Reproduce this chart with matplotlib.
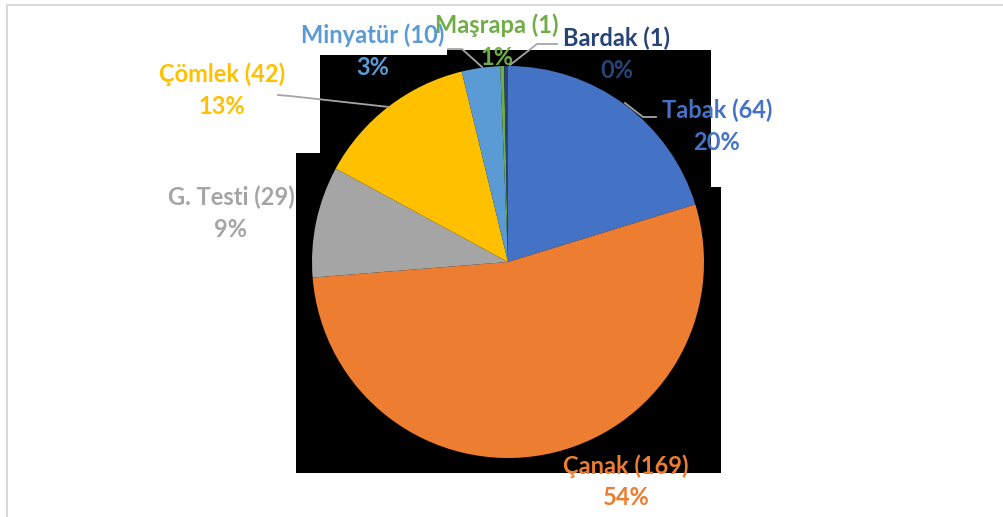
import matplotlib
matplotlib.use('Agg')
import matplotlib.pyplot as plt
from matplotlib.patches import Polygon

plt.rcParams['font.family'] = ['Lato', 'DejaVu Sans']

# data
categories = ['Tabak', 'Çanak', 'G. Testi', 'Çömlek', 'Minyatür', 'Maşrapa', 'Bardak']
counts = [64, 169, 29, 42, 10, 1, 1]
pct_labels = ['20%', '54%', '9%', '13%', '3%', '1%', '0%']
colors = ['#4472C4', '#ED7D31', '#A5A5A5', '#FFC000', '#5B9BD5', '#70AD47', '#264478']

W, H = 1004, 517
fig = plt.figure(figsize=(W / 100, H / 100), dpi=100)
ax = fig.add_axes([0, 0, 1, 1])
fig.patch.set_facecolor('white')

def py(y):
    # pixel row (top-down) -> data y (bottom-up)
    return H - y

# outer chart frame (only top & left visible)
ax.plot([7, 7, W + 5], [py(H + 5), py(5), py(5)], color='#D9D9D9', lw=1.5, zorder=1)

# black plot-area artifact behind the pie
blk = [(320, 55), (447, 55), (447, 50), (711, 50), (711, 187), (721, 187),
       (721, 473), (296, 473), (296, 153), (320, 153)]
ax.add_patch(Polygon([(x, py(y)) for x, y in blk], closed=True,
                     facecolor='black', edgecolor='none', zorder=2))

# pie
CX, CY, R = 508, 262, 196
ax.pie(counts, colors=colors, startangle=90, counterclock=False,
       center=(CX, py(CY)), radius=R, frame=True,
       wedgeprops=dict(linewidth=0, zorder=3))

# data labels: name line centre in pixels, pct line 32 px lower
label_pos = [(717, 110), (626, 466), (231, 197), (222, 74), (373, 35), (497, 25), (617, 38)]
for name, n, pct, col, (lx, ly) in zip(categories, counts, pct_labels, colors, label_pos):
    ax.text(lx, py(ly), f'{name} ({n})', color=col, fontsize=17, fontweight='bold',
            ha='center', va='center', zorder=6)
    ax.text(lx, py(ly + 32), pct, color=col, fontsize=17, fontweight='bold',
            ha='center', va='center', zorder=6)

# leader lines
leaders = [
    [(625, 103), (643, 117), (656, 117)],   # Tabak
    [(510, 65), (537, 44), (557, 44)],      # Bardak
    [(448, 49), (462, 49), (482, 67)],      # Minyatür
    [(278, 95), (290, 96), (389, 107)],     # Çömlek
]
for pts in leaders:
    ax.plot([p[0] for p in pts], [py(p[1]) for p in pts], color='#A6A6A6', lw=1.3, zorder=5)

ax.set_xlim(0, W)
ax.set_ylim(0, H)
ax.axis('off')

fig.savefig('out.png', dpi=100, facecolor='white')
